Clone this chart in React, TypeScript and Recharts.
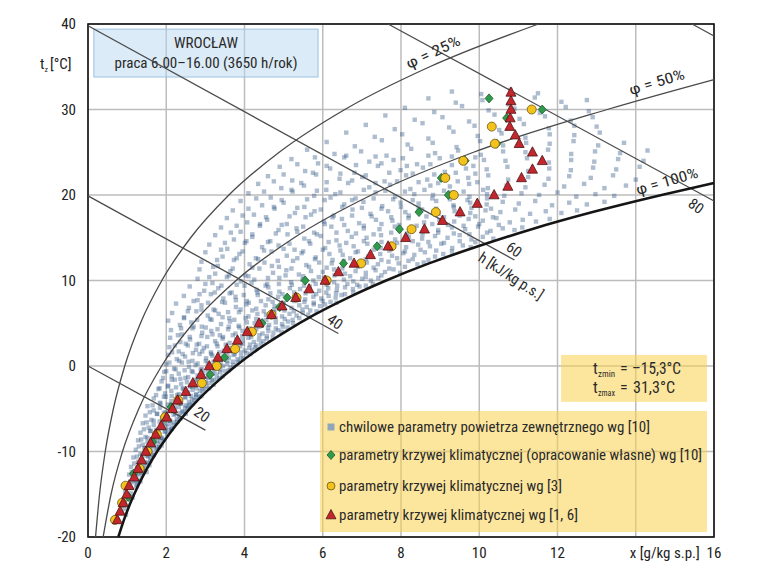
import {
  CartesianGrid,
  Label,
  Legend,
  ReferenceArea,
  ReferenceDot,
  Scatter,
  ScatterChart,
  XAxis,
  YAxis,
} from "recharts";

const font = "'Liberation Sans Narrow', 'Arial Narrow', 'Roboto Condensed', 'Liberation Sans', Arial, sans-serif";

const xTicks = [0, 2, 4, 6, 8, 10, 12, 14, 16];
const yTicks = [-20, -10, 0, 10, 20, 30, 40];

// relative humidity curves, [x g/kg, t °C]
const phi100: [number, number][] = [
  [0.775, -20], [0.919, -18], [1.086, -16], [1.281, -14], [1.507, -12], [1.767, -10],
  [2.067, -8], [2.411, -6], [2.806, -4], [3.26, -2], [3.775, 0], [4.36, 2], [5.04, 4],
  [5.79, 6], [6.65, 8], [7.62, 10], [8.715, 12], [9.97, 14], [11.34, 16], [12.9, 18],
  [14.66, 20], [16.0, 21.4],
];
const phi50: [number, number][] = [
  [0.387, -20], [0.589, -15], [0.882, -10], [1.298, -5], [1.882, 0], [2.687, 5],
  [3.786, 10], [5.268, 15], [7.243, 20], [9.853, 25], [13.27, 30], [16.0, 33.5],
];
const phi25: [number, number][] = [
  [0.193, -20], [0.295, -15], [0.441, -10], [0.649, -5], [0.939, 0], [1.34, 5],
  [1.887, 10], [2.623, 15], [3.601, 20], [4.887, 25], [6.565, 30], [8.735, 35], [11.516, 40],
];

// constant enthalpy lines, end points [x, t]
const enthalpyLines: [number, number][][] = [
  [[0, 0], [3.0, -7.5]],
  [[0, 19.9], [6.4, 3.8]],
  [[0, 39.8], [10.9, 12.4]],
  [[7.67, 40], [16, 19.3]],
  [[15.44, 40], [16, 38.6]],
];

// climatic curve wg [1, 6]
const redT = [
  -18, -17, -16, -15, -14, -13, -12, -11, -10, -9, -8, -7, -6, -5, -4, -3, -2, -1, 0, 1, 2,
  3, 4, 5, 6, 7, 8, 9, 10, 11, 12, 13, 14, 15, 16, 17, 18, 19, 20, 21, 22, 23, 24, 25, 26,
  27, 28, 29, 30, 31, 32,
];
const redX = [
  0.75, 0.82, 0.9, 0.99, 1.05, 1.18, 1.28, 1.37, 1.48, 1.6, 1.73, 1.87, 2.01, 2.16, 2.29,
  2.5, 2.68, 2.89, 3.1, 3.32, 3.55, 3.82, 4.07, 4.37, 4.69, 4.96, 5.31, 5.65, 6.06, 6.4,
  6.8, 7.22, 7.67, 8.12, 8.6, 9.06, 9.51, 9.95, 10.38, 10.73, 11.08, 11.36, 11.61, 11.36,
  11.02, 10.92, 10.78, 10.79, 10.81, 10.81, 10.81,
];

// climatic curve wg [3]
const yellowT = [-18, -16, -14, -12, -10, -8, -6, -4, -2, 0, 2, 4, 6, 8, 10, 12, 14, 16, 18, 20, 22, 24, 26, 28, 30];
const yellowX = [
  0.69, 0.87, 0.96, 1.32, 1.52, 1.76, 1.97, 2.31, 2.91, 3.29, 3.76, 4.19, 4.69, 5.33, 6.1,
  6.98, 7.76, 8.27, 8.89, 9.35, 9.13, 9.59, 10.4, 10.32, 11.34,
];

// climatic curve, own elaboration wg [10]
const greenT = [-15.3, -12.6, -8.9, -4.8, -1, 1, 5, 6.9, 8, 10, 12, 14, 16, 18, 20, 22, 24, 26, 29, 30, 31.3];
const greenX = [
  1.03, 1.16, 1.65, 2.12, 3.12, 3.49, 4.45, 4.9, 5.09, 5.55, 6.53, 7.39, 7.96, 8.46, 9.21,
  9.03, 9.64, 10.45, 10.7, 11.61, 10.25,
];

// hourly outdoor air states wg [10], [x, t]
const cloud: [number, number][] = [
  [0.86, -17.2], [0.93, -16.7], [0.97, -17.4],
  [0.9, -15.8], [0.98, -16.3], [1.03, -15.6],
  [0.95, -14.7], [1.04, -15.2], [1.1, -14.9], [1.14, -15.4],
  [1.0, -13.8], [1.1, -14.3], [1.17, -13.6], [1.23, -14.1], [1.26, -13.9],
  [1.05, -12.7], [1.15, -13.2], [1.24, -12.9], [1.31, -13.4], [1.37, -12.8],
  [1.1, -11.8], [1.22, -12.3], [1.32, -11.6], [1.4, -12.1], [1.47, -11.9], [1.5, -12.4],
  [1.16, -10.7], [1.28, -11.2], [1.38, -10.9], [1.47, -11.3], [1.54, -10.6], [1.59, -11.1],
  [1.22, -9.8], [1.34, -10.3], [1.44, -9.6], [1.53, -10.1], [1.61, -9.9], [1.68, -10.4], [1.73, -9.7],
  [1.28, -8.7], [1.4, -9.2], [1.52, -8.9], [1.62, -9.4], [1.7, -8.6], [1.78, -9.1], [1.85, -8.8], [1.88, -9.3],
  [1.34, -7.8], [1.47, -8.3], [1.59, -7.6], [1.7, -8.1], [1.8, -7.9], [1.89, -8.4], [1.96, -7.7], [2.02, -8.0],
  [1.4, -6.7], [1.55, -7.2], [1.68, -6.9], [1.8, -7.4], [1.91, -6.6], [2.0, -7.1], [2.08, -6.8], [2.14, -7.3], [2.19, -6.9],
  [1.47, -5.8], [1.62, -6.3], [1.76, -5.6], [1.89, -6.1], [2.0, -5.9], [2.1, -6.4], [2.19, -5.7], [2.27, -6.2], [2.33, -5.9], [2.37, -6.1],
  [1.52, -4.7], [1.68, -5.2], [1.84, -4.9], [1.98, -5.4], [2.11, -4.6], [2.22, -5.1], [2.32, -4.8], [2.41, -5.3], [2.48, -4.9], [2.54, -5.0], [2.57, -4.7],
  [1.68, -3.8], [1.84, -4.3], [1.99, -3.6], [2.13, -4.1], [2.26, -3.9], [2.38, -4.4], [2.49, -3.7], [2.58, -4.2], [2.66, -3.9], [2.72, -4.0], [2.76, -3.7],
  [1.8, -2.7], [1.97, -3.2], [2.13, -2.9], [2.28, -3.4], [2.42, -2.6], [2.55, -3.1], [2.67, -2.8], [2.77, -3.3], [2.86, -2.9], [2.93, -3.0], [2.98, -2.7],
  [1.88, -1.8], [2.05, -2.3], [2.22, -1.6], [2.38, -2.1], [2.53, -1.9], [2.67, -2.4], [2.8, -1.7], [2.91, -2.2], [3.01, -1.9], [3.1, -2.0], [3.17, -1.7], [3.21, -2.2],
  [1.95, -0.7], [2.14, -1.2], [2.32, -0.9], [2.49, -1.4], [2.65, -0.6], [2.8, -1.1], [2.94, -0.8], [3.07, -1.3], [3.19, -0.9], [3.29, -1.0], [3.38, -0.7], [3.44, -1.2],
  [2.0, 0.2], [2.2, -0.3], [2.4, 0.4], [2.58, -0.1], [2.75, 0.1], [2.91, -0.4], [3.06, 0.3], [3.2, -0.2], [3.33, 0.1], [3.45, 0.0], [3.56, 0.3], [3.64, -0.2], [3.71, 0.1],
  [2.05, 1.3], [2.27, 0.8], [2.48, 1.1], [2.67, 0.6], [2.85, 1.4], [3.02, 0.9], [3.18, 1.2], [3.33, 0.7], [3.47, 1.1], [3.6, 1.0], [3.72, 1.3], [3.82, 0.8], [3.91, 1.1], [3.97, 0.9],
  [2.08, 2.2], [2.32, 1.7], [2.55, 2.4], [2.76, 1.9], [2.96, 2.1], [3.14, 1.6], [3.31, 2.3], [3.47, 1.8], [3.62, 2.1], [3.76, 2.0], [3.89, 2.3], [4.01, 1.8], [4.12, 2.1], [4.2, 1.9], [4.27, 2.2],
  [2.1, 3.3], [2.36, 2.8], [2.61, 3.1], [2.84, 2.6], [3.05, 3.4], [3.25, 2.9], [3.44, 3.2], [3.62, 2.7], [3.79, 3.1], [3.95, 3.0], [4.1, 3.3], [4.24, 2.8], [4.37, 3.1], [4.48, 2.9], [4.57, 3.2],
  [2.12, 4.2], [2.4, 3.7], [2.67, 4.4], [2.92, 3.9], [3.15, 4.1], [3.37, 3.6], [3.58, 4.3], [3.77, 3.8], [3.95, 4.1], [4.13, 4.0], [4.3, 4.3], [4.46, 3.8], [4.61, 4.1], [4.74, 3.9], [4.86, 4.2], [4.95, 4.0],
  [2.05, 5.3], [2.35, 4.8], [2.64, 5.1], [2.91, 4.6], [3.16, 5.4], [3.4, 4.9], [3.63, 5.2], [3.85, 4.7], [4.06, 5.1], [4.26, 5.0], [4.45, 5.3], [4.63, 4.8], [4.8, 5.1], [4.96, 4.9], [5.11, 5.2], [5.24, 5.0],
  [2.15, 6.2], [2.46, 5.7], [2.77, 6.4], [3.06, 5.9], [3.34, 6.1], [3.61, 5.6], [3.86, 6.3], [4.1, 5.8], [4.33, 6.1], [4.55, 6.0], [4.76, 6.3], [4.96, 5.8], [5.15, 6.1], [5.33, 5.9], [5.49, 6.2], [5.63, 6.0],
  [2.25, 7.3], [2.58, 6.8], [2.9, 7.1], [3.21, 6.6], [3.5, 7.4], [3.78, 6.9], [4.05, 7.2], [4.3, 6.7], [4.54, 7.1], [4.77, 7.0], [4.99, 7.3], [5.2, 6.8], [5.4, 7.1], [5.59, 6.9], [5.77, 7.2], [5.93, 7.0], [6.06, 7.2],
  [2.45, 8.2], [2.8, 7.7], [3.14, 8.4], [3.46, 7.9], [3.77, 8.1], [4.06, 7.6], [4.34, 8.3], [4.61, 7.8], [4.86, 8.1], [5.1, 8.0], [5.33, 8.3], [5.55, 7.8], [5.76, 8.1], [5.96, 7.9], [6.15, 8.2], [6.33, 8.0], [6.48, 8.3],
  [2.6, 9.3], [2.97, 8.8], [3.33, 9.1], [3.67, 8.6], [4.0, 9.4], [4.31, 8.9], [4.61, 9.2], [4.89, 8.7], [5.16, 9.1], [5.42, 9.0], [5.67, 9.3], [5.91, 8.8], [6.14, 9.1], [6.36, 8.9], [6.57, 9.2], [6.77, 9.0], [6.94, 9.3],
  [2.8, 10.2], [3.18, 9.7], [3.55, 10.4], [3.91, 9.9], [4.25, 10.1], [4.58, 9.6], [4.89, 10.3], [5.19, 9.8], [5.48, 10.1], [5.76, 10.0], [6.03, 10.3], [6.29, 9.8], [6.54, 10.1], [6.78, 9.9], [7.01, 10.2], [7.23, 10.0], [7.42, 10.3],
  [2.85, 11.3], [3.25, 10.8], [3.64, 11.1], [4.02, 10.6], [4.38, 11.4], [4.73, 10.9], [5.07, 11.2], [5.39, 10.7], [5.7, 11.1], [6.0, 11.0], [6.29, 11.3], [6.57, 10.8], [6.84, 11.1], [7.1, 10.9], [7.35, 11.2], [7.59, 11.0], [7.81, 11.3], [7.98, 10.9],
  [2.9, 12.2], [3.32, 11.7], [3.73, 12.4], [4.13, 11.9], [4.51, 12.1], [4.88, 11.6], [5.24, 12.3], [5.58, 11.8], [5.91, 12.1], [6.23, 12.0], [6.54, 12.3], [6.84, 11.8], [7.13, 12.1], [7.41, 11.9], [7.68, 12.2], [7.94, 12.0], [8.19, 12.3], [8.42, 11.9], [8.58, 12.1],
  [3.0, 13.3], [3.44, 12.8], [3.87, 13.1], [4.29, 12.6], [4.69, 13.4], [5.08, 12.9], [5.46, 13.2], [5.82, 12.7], [6.17, 13.1], [6.51, 13.0], [6.84, 13.3], [7.16, 12.8], [7.47, 13.1], [7.77, 12.9], [8.06, 13.2], [8.34, 13.0], [8.61, 13.3], [8.87, 12.8], [9.08, 13.1],
  [3.1, 14.2], [3.56, 13.7], [4.01, 14.4], [4.45, 13.9], [4.87, 14.1], [5.28, 13.6], [5.68, 14.3], [6.06, 13.8], [6.43, 14.1], [6.79, 14.0], [7.14, 14.3], [7.48, 13.8], [7.81, 14.1], [8.13, 13.9], [8.44, 14.2], [8.74, 14.0], [9.03, 14.3], [9.31, 13.8], [9.58, 14.1], [9.78, 13.9],
  [3.25, 15.3], [3.73, 14.8], [4.2, 15.1], [4.66, 14.6], [5.1, 15.4], [5.53, 14.9], [5.95, 15.2], [6.35, 14.7], [6.74, 15.1], [7.12, 15.0], [7.49, 15.3], [7.85, 14.8], [8.2, 15.1], [8.54, 14.9], [8.87, 15.2], [9.19, 15.0], [9.5, 15.3], [9.8, 14.8], [10.09, 15.1], [10.36, 14.9],
  [3.4, 16.2], [3.9, 15.7], [4.39, 16.4], [4.87, 15.9], [5.33, 16.1], [5.78, 15.6], [6.22, 16.3], [6.64, 15.8], [7.05, 16.1], [7.45, 16.0], [7.84, 16.3], [8.22, 15.8], [8.59, 16.1], [8.95, 15.9], [9.3, 16.2], [9.64, 16.0], [9.97, 16.3], [10.29, 15.8], [10.6, 16.1], [10.9, 15.9], [11.1, 16.2],
  [3.55, 17.3], [4.07, 16.8], [4.58, 17.1], [5.08, 16.6], [5.56, 17.4], [6.03, 16.9], [6.49, 17.2], [6.93, 16.7], [7.36, 17.1], [7.78, 17.0], [8.19, 17.3], [8.59, 16.8], [8.98, 17.1], [9.36, 16.9], [9.73, 17.2], [10.09, 17.0], [10.44, 17.3], [10.78, 16.8], [11.11, 17.1], [11.45, 16.9], [11.8, 17.2],
  [3.7, 18.2], [4.24, 17.7], [4.77, 18.4], [5.29, 17.9], [5.79, 18.1], [6.28, 17.6], [6.76, 18.3], [7.22, 17.8], [7.67, 18.1], [8.11, 18.0], [8.54, 18.3], [8.96, 17.8], [9.37, 18.1], [9.77, 17.9], [10.16, 18.2], [10.54, 18.0], [10.92, 18.3], [11.3, 17.8], [11.7, 18.1], [12.1, 17.9], [12.5, 18.2],
  [3.9, 19.3], [4.45, 18.8], [5.0, 19.1], [5.53, 18.6], [6.05, 19.4], [6.55, 18.9], [7.04, 19.2], [7.52, 18.7], [7.99, 19.1], [8.45, 19.0], [8.9, 19.3], [9.34, 18.8], [9.77, 19.1], [10.19, 18.9], [10.6, 19.2], [11.01, 19.0], [11.43, 19.3], [11.86, 18.8], [12.3, 19.1], [12.75, 18.9], [13.2, 19.2],
  [4.1, 20.2], [4.67, 19.7], [5.23, 20.4], [5.78, 19.9], [6.32, 20.1], [6.84, 19.6], [7.35, 20.3], [7.85, 19.8], [8.34, 20.1], [8.82, 20.0], [9.29, 20.3], [9.75, 19.8], [10.2, 20.1], [10.64, 19.9], [11.08, 20.2], [11.53, 20.0], [12.0, 20.3], [12.48, 19.8], [12.97, 20.1], [13.45, 19.9],
  [4.35, 21.3], [4.94, 20.8], [5.52, 21.1], [6.09, 20.6], [6.65, 21.4], [7.19, 20.9], [7.72, 21.2], [8.24, 20.7], [8.75, 21.1], [9.25, 21.0], [9.74, 21.3], [10.22, 20.8], [10.7, 21.1], [11.18, 20.9], [11.67, 21.2], [12.17, 21.0], [12.68, 21.3], [13.2, 20.8], [13.75, 21.1],
  [4.6, 22.2], [5.22, 21.7], [5.83, 22.4], [6.43, 21.9], [7.01, 22.1], [7.58, 21.6], [8.13, 22.3], [8.67, 21.8], [9.2, 22.1], [9.72, 22.0], [10.23, 22.3], [10.74, 21.8], [11.25, 22.1], [11.77, 21.9], [12.3, 22.2], [12.85, 22.0], [13.42, 22.3], [14.0, 21.8],
  [4.9, 23.3], [5.55, 22.8], [6.19, 23.1], [6.81, 22.6], [7.41, 23.4], [7.99, 22.9], [8.56, 23.2], [9.12, 22.7], [9.66, 23.1], [10.19, 23.0], [10.72, 23.3], [11.25, 22.8], [11.79, 23.1], [12.34, 22.9], [12.91, 23.2], [13.5, 23.0], [14.1, 23.3],
  [5.2, 24.2], [5.88, 23.7], [6.55, 24.4], [7.19, 23.9], [7.81, 24.1], [8.41, 23.6], [8.99, 24.3], [9.56, 23.8], [10.12, 24.1], [10.67, 24.0], [11.22, 24.3], [11.78, 23.8], [12.35, 24.1], [12.94, 23.9], [13.55, 24.2], [14.2, 24.0],
  [5.6, 25.3], [6.3, 24.8], [6.98, 25.1], [7.63, 24.6], [8.26, 25.4], [8.87, 24.9], [9.46, 25.2], [10.04, 24.7], [10.61, 25.1], [11.18, 25.0], [11.76, 25.3], [12.35, 24.8], [12.96, 25.1], [13.6, 24.9], [14.3, 25.2],
  [6.1, 26.2], [6.82, 25.7], [7.51, 26.4], [8.17, 25.9], [8.81, 26.1], [9.42, 25.6], [10.02, 26.3], [10.61, 25.8], [11.2, 26.1], [11.8, 26.0], [12.41, 26.3], [13.04, 25.8], [13.7, 26.1],
  [6.6, 27.3], [7.33, 26.8], [8.03, 27.1], [8.7, 26.6], [9.34, 27.4], [9.96, 26.9], [10.57, 27.2], [11.18, 26.7], [11.8, 27.1], [12.43, 27.0], [13.08, 27.3],
  [7.1, 28.2], [7.84, 27.7], [8.55, 28.4], [9.23, 27.9], [9.88, 28.1], [10.51, 27.6], [11.14, 28.3], [11.78, 27.8], [12.43, 28.1], [13.0, 28.0],
  [7.6, 29.3], [8.35, 28.8], [9.06, 29.1], [9.74, 28.6], [10.39, 29.4], [11.03, 28.9], [11.68, 29.2], [12.34, 28.7], [12.9, 29.1],
  [8.1, 30.2], [8.85, 29.7], [9.56, 30.4], [10.24, 29.9], [10.9, 30.1], [11.55, 29.6], [12.21, 30.3], [12.8, 29.8],
  [8.7, 31.3], [9.4, 30.8], [10.08, 31.1], [10.75, 30.6], [11.42, 31.4], [12.1, 30.9], [12.75, 31.1],
  [9.3, 32.1], [10.05, 31.8], [10.8, 32.3], [11.5, 31.9],
];

// hourly states in between, where the record is densest
const cloudDense: [number, number][] = [
  [1.08, -13.5], [1.2, -13.4], [1.28, -13.6], [1.34, -13.5],
  [1.12, -12.4], [1.27, -12.6], [1.36, -12.5], [1.43, -12.3],
  [1.18, -11.4], [1.33, -11.6], [1.44, -11.5], [1.52, -11.3], [1.57, -11.6],
  [1.25, -10.6], [1.39, -10.4], [1.5, -10.5], [1.6, -10.7], [1.67, -10.4],
  [1.3, -9.4], [1.46, -9.6], [1.58, -9.5], [1.68, -9.3], [1.76, -9.6], [1.82, -9.5],
  [1.36, -8.6], [1.52, -8.4], [1.65, -8.5], [1.76, -8.7], [1.86, -8.4], [1.94, -8.6],
  [1.43, -7.4], [1.6, -7.6], [1.74, -7.5], [1.87, -7.3], [1.98, -7.6], [2.07, -7.5], [2.13, -7.4],
  [1.5, -6.6], [1.68, -6.4], [1.83, -6.5], [1.97, -6.7], [2.09, -6.4], [2.2, -6.6], [2.28, -6.5],
  [1.58, -5.4], [1.77, -5.6], [1.94, -5.5], [2.09, -5.3], [2.23, -5.6], [2.35, -5.5], [2.45, -5.4], [2.5, -5.6],
  [1.65, -4.6], [1.85, -4.4], [2.04, -4.5], [2.21, -4.7], [2.36, -4.4], [2.5, -4.6], [2.61, -4.5], [2.68, -4.4],
  [1.74, -3.4], [1.94, -3.6], [2.14, -3.5], [2.32, -3.3], [2.48, -3.6], [2.63, -3.5], [2.76, -3.4], [2.86, -3.6], [2.9, -3.5],
  [1.83, -2.6], [2.04, -2.4], [2.25, -2.5], [2.44, -2.7], [2.61, -2.4], [2.77, -2.6], [2.91, -2.5], [3.03, -2.4], [3.1, -2.6],
  [1.92, -1.4], [2.14, -1.6], [2.36, -1.5], [2.56, -1.3], [2.75, -1.6], [2.92, -1.5], [3.07, -1.4], [3.2, -1.6], [3.3, -1.5], [3.36, -1.4],
  [2.0, -0.6], [2.24, -0.4], [2.47, -0.5], [2.68, -0.7], [2.88, -0.4], [3.06, -0.6], [3.23, -0.5], [3.38, -0.4], [3.5, -0.6], [3.6, -0.5],
  [2.08, 0.4], [2.33, 0.6], [2.57, 0.5], [2.8, 0.3], [3.01, 0.6], [3.21, 0.5], [3.39, 0.4], [3.56, 0.6], [3.7, 0.5], [3.82, 0.4], [3.88, 0.6],
  [2.15, 1.6], [2.42, 1.4], [2.68, 1.5], [2.92, 1.7], [3.15, 1.4], [3.36, 1.6], [3.56, 1.5], [3.75, 1.4], [3.91, 1.6], [4.05, 1.5], [4.15, 1.4],
  [2.22, 2.4], [2.5, 2.6], [2.78, 2.5], [3.04, 2.3], [3.29, 2.6], [3.52, 2.5], [3.74, 2.4], [3.95, 2.6], [4.14, 2.5], [4.3, 2.4], [4.42, 2.6],
  [2.3, 3.6], [2.6, 3.4], [2.9, 3.5], [3.18, 3.7], [3.45, 3.4], [3.7, 3.6], [3.94, 3.5], [4.17, 3.4], [4.38, 3.6], [4.57, 3.5], [4.72, 3.4],
  [2.38, 4.4], [2.7, 4.6], [3.01, 4.5], [3.31, 4.3], [3.6, 4.6], [3.87, 4.5], [4.13, 4.4], [4.38, 4.6], [4.6, 4.5], [4.8, 4.4], [4.98, 4.6], [5.1, 4.5],
  [2.45, 5.6], [2.79, 5.4], [3.12, 5.5], [3.44, 5.7], [3.74, 5.4], [4.03, 5.6], [4.3, 5.5], [4.56, 5.4], [4.8, 5.6], [5.03, 5.5], [5.23, 5.4], [5.4, 5.6],
  [2.55, 6.4], [2.9, 6.6], [3.25, 6.5], [3.58, 6.3], [3.9, 6.6], [4.2, 6.5], [4.49, 6.4], [4.76, 6.6], [5.02, 6.5], [5.26, 6.4], [5.48, 6.6], [5.68, 6.5], [5.84, 6.4],
  [2.7, 7.6], [3.07, 7.4], [3.43, 7.5], [3.78, 7.7], [4.11, 7.4], [4.42, 7.6], [4.72, 7.5], [5.0, 7.4], [5.27, 7.6], [5.53, 7.5], [5.77, 7.4], [6.0, 7.6], [6.2, 7.5], [6.35, 7.4],
  [2.85, 8.4], [3.24, 8.6], [3.62, 8.5], [3.98, 8.3], [4.33, 8.6], [4.66, 8.5], [4.97, 8.4], [5.27, 8.6], [5.56, 8.5], [5.83, 8.4], [6.09, 8.6], [6.34, 8.5], [6.57, 8.4], [6.78, 8.6],
  [3.0, 9.6], [3.41, 9.4], [3.8, 9.5], [4.18, 9.7], [4.54, 9.4], [4.88, 9.6], [5.21, 9.5], [5.52, 9.4], [5.82, 9.6], [6.1, 9.5], [6.37, 9.4], [6.63, 9.6], [6.88, 9.5], [7.1, 9.4], [7.28, 9.6],
  [3.1, 10.4], [3.6, 10.6], [4.1, 10.5], [4.6, 10.3], [5.05, 10.6], [5.5, 10.5], [5.9, 10.4], [6.3, 10.6], [6.7, 10.5], [7.1, 10.4], [7.5, 10.6],
  [3.2, 11.6], [3.7, 11.4], [4.2, 11.5], [4.7, 11.7], [5.2, 11.4], [5.65, 11.6], [6.1, 11.5], [6.5, 11.4], [6.9, 11.6], [7.3, 11.5], [7.7, 11.4], [8.1, 11.6],
  [3.3, 12.4], [3.8, 12.6], [4.35, 12.5], [4.85, 12.3], [5.35, 12.6], [5.8, 12.5], [6.25, 12.4], [6.7, 12.6], [7.1, 12.5], [7.5, 12.4], [7.9, 12.6], [8.3, 12.5], [8.7, 12.4],
  [3.4, 13.6], [3.95, 13.4], [4.5, 13.5], [5.0, 13.7], [5.5, 13.4], [6.0, 13.6], [6.45, 13.5], [6.9, 13.4], [7.3, 13.6], [7.7, 13.5], [8.1, 13.4], [8.5, 13.6], [8.9, 13.5], [9.3, 13.4],
  [3.5, 14.4], [4.05, 14.6], [4.6, 14.5], [5.15, 14.3], [5.65, 14.6], [6.15, 14.5], [6.6, 14.4], [7.05, 14.6], [7.5, 14.5], [7.9, 14.4], [8.3, 14.6], [8.7, 14.5], [9.1, 14.4], [9.5, 14.6], [9.9, 14.5],
  [3.65, 15.6], [4.2, 15.4], [4.8, 15.5], [5.35, 15.7], [5.85, 15.4], [6.35, 15.6], [6.85, 15.5], [7.3, 15.4], [7.75, 15.6], [8.15, 15.5], [8.55, 15.4], [8.95, 15.6], [9.35, 15.5], [9.75, 15.4], [10.2, 15.6],
  [3.8, 16.4], [4.4, 16.6], [4.95, 16.5], [5.5, 16.3], [6.05, 16.6], [6.55, 16.5], [7.05, 16.4], [7.5, 16.6], [7.95, 16.5], [8.4, 16.4], [8.8, 16.6], [9.2, 16.5], [9.6, 16.4], [10.0, 16.6], [10.5, 16.5],
  [3.95, 17.6], [4.55, 17.4], [5.15, 17.5], [5.7, 17.7], [6.25, 17.4], [6.75, 17.6], [7.25, 17.5], [7.75, 17.4], [8.2, 17.6], [8.65, 17.5], [9.1, 17.4], [9.5, 17.6], [9.9, 17.5], [10.35, 17.4],
  [4.1, 18.4], [4.75, 18.6], [5.35, 18.5], [5.95, 18.3], [6.5, 18.6], [7.0, 18.5], [7.5, 18.4], [8.0, 18.6], [8.45, 18.5], [8.9, 18.4], [9.35, 18.6], [9.8, 18.5], [10.3, 18.4],
  [4.3, 19.6], [4.95, 19.4], [5.6, 19.5], [6.2, 19.7], [6.75, 19.4], [7.3, 19.6], [7.8, 19.5], [8.3, 19.4], [8.8, 19.6], [9.25, 19.5], [9.7, 19.4], [10.2, 19.6],
  [4.5, 20.4], [5.2, 20.6], [5.85, 20.5], [6.45, 20.3], [7.05, 20.6], [7.6, 20.5], [8.1, 20.4], [8.6, 20.6], [9.1, 20.5], [9.6, 20.4], [10.1, 20.6],
  [4.75, 21.6], [5.45, 21.4], [6.1, 21.5], [6.75, 21.7], [7.35, 21.4], [7.9, 21.6], [8.45, 21.5], [8.95, 21.4], [9.45, 21.6], [9.95, 21.5],
  [5.0, 22.4], [5.75, 22.6], [6.45, 22.5], [7.1, 22.3], [7.7, 22.6], [8.3, 22.5], [8.85, 22.4], [9.4, 22.6], [9.9, 22.5],
  [5.35, 23.6], [6.1, 23.4], [6.85, 23.5], [7.5, 23.7], [8.15, 23.4], [8.75, 23.6], [9.3, 23.5], [9.85, 23.4],
  [5.8, 24.4], [6.6, 24.6], [7.35, 24.5], [8.05, 24.3], [8.7, 24.6], [9.3, 24.5], [9.9, 24.4],
];

const legendItems = [
  { kind: "square", text: "chwilowe parametry powietrza zewnętrznego wg [10]", width: 311 },
  { kind: "diamond", text: "parametry krzywej klimatycznej (opracowanie własne) wg [10]", width: 363 },
  { kind: "circle", text: "parametry krzywej klimatycznej wg [3]", width: 223 },
  { kind: "triangle", text: "parametry krzywej klimatycznej wg [1, 6]", width: 239 },
];

// text placed along the curves, in chart coordinates
const curveLabels = [
  { text: "φ = 25%", x: 8.82, t: 36.7, angle: -25, width: 58 },
  { text: "φ = 50%", x: 14.54, t: 33.2, angle: -17, width: 57 },
  { text: "φ = 100%", x: 14.8, t: 21.6, angle: -16, width: 64 },
  { text: "20", x: 2.91, t: -5.7, angle: 36, width: 15 },
  { text: "40", x: 6.31, t: 5.15, angle: 36, width: 15 },
  { text: "60", x: 10.89, t: 13.6, angle: 36, width: 15 },
  { text: "80", x: 15.54, t: 18.7, angle: 36, width: 15 },
  { text: "h [kJ/kg p.s.]", x: 10.81, t: 10.5, angle: 33, width: 74 },
];

const toPts = (arr: [number, number][]) => arr.map(([x, t]) => ({ x, t }));
const zip = (xs: number[], ts: number[]) => xs.map((x, i) => ({ x, t: ts[i] }));

const cloudData = toPts([...cloud, ...cloudDense]);
const redData = zip(redX, redT);
const yellowData = zip(yellowX, yellowT);
const greenData = zip(greenX, greenT);

const NoDot = () => <g />;

// scanned look of the hourly cloud: slightly soft squares
const CloudDot = (p: any) => (
  <rect
    x={p.cx - 2.2}
    y={p.cy - 2.2}
    width={4.4}
    height={4.4}
    fill="#2b5282"
    fillOpacity={0.38}
    filter="url(#soft-dot)"
  />
);

const Triangle = (p: any) => (
  <polygon
    points={`${p.cx},${p.cy - 5.5} ${p.cx + 5},${p.cy + 3.8} ${p.cx - 5},${p.cy + 3.8}`}
    fill="#c3262c"
    stroke="#4d1515"
    strokeWidth={0.8}
  />
);

const Circle = (p: any) => (
  <circle cx={p.cx} cy={p.cy} r={4.5} fill="#f4c21c" stroke="#6b5710" strokeWidth={0.8} />
);

const Diamond = (p: any) => (
  <polygon
    points={`${p.cx},${p.cy - 4.5} ${p.cx + 4},${p.cy} ${p.cx},${p.cy + 4.5} ${p.cx - 4},${p.cy}`}
    fill="#2f9a4a"
    stroke="#1c5a2c"
    strokeWidth={0.8}
  />
);

const XTick = (p: any) => {
  const v = p.payload.value;
  if (v === 14) {
    return (
      <text x={p.x + 29} y={p.y + 21} textAnchor="middle" fontSize={15} fill="#222" fontFamily={font} textLength={70} lengthAdjust="spacingAndGlyphs">
        x [g/kg s.p.]
      </text>
    );
  }
  return (
    <text x={p.x} y={p.y + 21} textAnchor="middle" fontSize={15} fill="#222" fontFamily={font}>
      {v}
    </text>
  );
};

const YTick = (p: any) => (
  <text x={p.x} y={p.y + 5} textAnchor="end" fontSize={15} fill="#222" fontFamily={font}>
    {p.payload.value}
  </text>
);

const YTitle = (p: any) => {
  const { x, y } = p.viewBox;
  return (
    <text x={x + 12} y={y + 45} fontSize={15} fill="#222" fontFamily={font}>
      t
      <tspan fontSize={8} dy={3}>z</tspan>
      <tspan dy={-3} dx={2}>[°C]</tspan>
    </text>
  );
};

const TitleBox = (p: any) => (
  <g fontFamily={font} fill="#2a2a2a">
    <rect x={p.x} y={p.y} width={p.width} height={p.height} fill="#b7d8f0" fillOpacity={0.5} stroke="#9cc3e0" strokeWidth={1} />
    <text x={p.x + p.width / 2} y={p.y + 19} textAnchor="middle" fontSize={15} textLength={64} lengthAdjust="spacingAndGlyphs">
      WROCŁAW
    </text>
    <text x={p.x + p.width / 2} y={p.y + 39} textAnchor="middle" fontSize={15} textLength={183} lengthAdjust="spacingAndGlyphs">
      praca 6.00–16.00 (3650 h/rok)
    </text>
  </g>
);

const ExtremesBox = (p: any) => (
  <g fontFamily={font} fill="#2a2a2a">
    <rect x={p.x} y={p.y} width={p.width} height={p.height} fill="#f9d24e" fillOpacity={0.55} />
    <text x={p.x + 32} y={p.y + 19} fontSize={16}>t</text>
    <text x={p.x + 37} y={p.y + 22} fontSize={9} textLength={17} lengthAdjust="spacingAndGlyphs">zmin</text>
    <text x={p.x + 59} y={p.y + 19} fontSize={16}>=</text>
    <text x={p.x + 71} y={p.y + 19} fontSize={16} textLength={49} lengthAdjust="spacingAndGlyphs">–15,3°C</text>
    <text x={p.x + 32} y={p.y + 38} fontSize={16}>t</text>
    <text x={p.x + 37} y={p.y + 41} fontSize={9} textLength={17} lengthAdjust="spacingAndGlyphs">zmax</text>
    <text x={p.x + 59} y={p.y + 38} fontSize={16}>=</text>
    <text x={p.x + 72} y={p.y + 38} fontSize={16} textLength={42} lengthAdjust="spacingAndGlyphs">31,3°C</text>
  </g>
);

const Border = (p: any) => (
  <rect x={p.x} y={p.y} width={p.width} height={p.height} fill="none" stroke="#111" strokeWidth={1.6} />
);

const LegendMarker = ({ kind }: { kind: string }) => {
  if (kind === "square") return <rect x={-3.5} y={-3.5} width={7} height={7} fill="#8fa6ba" />;
  if (kind === "diamond") return <Diamond cx={0} cy={0} />;
  if (kind === "circle") return <circle r={4} fill="#f4c21c" stroke="#6b5710" strokeWidth={0.8} />;
  return <Triangle cx={0} cy={0} />;
};

const LegendBox = () => (
  <svg width={387} height={121} style={{ display: "block" }}>
    <rect width={387} height={121} fill="#f9d24e" fillOpacity={0.55} />
    {legendItems.map((item, i) => {
      const y = [16, 44, 75, 104][i];
      return (
        <g key={item.text}>
          <g transform={`translate(11 ${y})`}>
            <LegendMarker kind={item.kind} />
          </g>
          <text x={19} y={y + 5} fontSize={15} fill="#2a2a2a" fontFamily={font} textLength={item.width} lengthAdjust="spacingAndGlyphs">
            {item.text}
          </text>
        </g>
      );
    })}
  </svg>
);

export default function App() {
  return (
    <div style={{ position: "absolute", left: 0, top: 0, width: 769, height: 577, background: "#fff" }}>
      <svg width={0} height={0} style={{ position: "absolute" }}>
        <defs>
          <filter id="soft-dot" x="-50%" y="-50%" width="200%" height="200%">
            <feGaussianBlur stdDeviation={0.7} />
          </filter>
        </defs>
      </svg>
      <ScatterChart width={769} height={577} margin={{ top: 24, right: 55, bottom: 10, left: 28 }}>
        <CartesianGrid stroke="#bcbcbc" strokeWidth={1.5} />
        <XAxis
          type="number"
          dataKey="x"
          domain={[0, 16]}
          ticks={xTicks}
          axisLine={false}
          tickLine={false}
          tickSize={0}
          tickMargin={0}
          height={30}
          interval={0}
          tick={(p: any) => <XTick {...p} />}
        />
        <YAxis
          type="number"
          dataKey="t"
          domain={[-20, 40]}
          ticks={yTicks}
          axisLine={false}
          tickLine={false}
          tickSize={0}
          tickMargin={12}
          width={60}
          interval={0}
          tick={(p: any) => <YTick {...p} />}
        >
          <Label content={(p: any) => <YTitle {...p} />} />
        </YAxis>

        <ReferenceArea x1={0.15} x2={5.88} y1={33.8} y2={39.4} shape={(p: any) => <TitleBox {...p} />} />
        <ReferenceArea x1={12.09} x2={15.82} y1={-4.2} y2={1.3} shape={(p: any) => <ExtremesBox {...p} />} />

        <Scatter data={cloudData} shape={CloudDot} isAnimationActive={false} />

        {enthalpyLines.map((seg, i) => (
          <Scatter
            key={`h-${i}`}
            data={toPts(seg)}
            line={{ stroke: "#4a4a4a", strokeWidth: 1.3 }}
            lineJointType="linear"
            shape={NoDot}
            isAnimationActive={false}
          />
        ))}
        <Scatter data={toPts(phi25)} line={{ stroke: "#4a4a4a", strokeWidth: 1.3 }} lineJointType="monotoneX" shape={NoDot} isAnimationActive={false} />
        <Scatter data={toPts(phi50)} line={{ stroke: "#4a4a4a", strokeWidth: 1.3 }} lineJointType="monotoneX" shape={NoDot} isAnimationActive={false} />
        <Scatter data={toPts(phi100)} line={{ stroke: "#151515", strokeWidth: 2.6 }} lineJointType="monotoneX" shape={NoDot} isAnimationActive={false} />

        <Scatter data={greenData} shape={Diamond} isAnimationActive={false} />
        <Scatter data={yellowData} shape={Circle} isAnimationActive={false} />
        <Scatter data={redData} shape={Triangle} isAnimationActive={false} />

        {curveLabels.map((l) => (
          <ReferenceDot
            key={l.text}
            x={l.x}
            y={l.t}
            r={0}
            shape={(p: any) => (
              <text
                x={p.cx}
                y={p.cy + 5}
                transform={`rotate(${l.angle} ${p.cx} ${p.cy})`}
                textAnchor="middle"
                fontSize={15}
                fill="#2a2a2a"
                fontFamily={font}
                textLength={l.width}
                lengthAdjust="spacingAndGlyphs"
              >
                {l.text}
              </text>
            )}
          />
        ))}

        <ReferenceArea x1={0} x2={16} y1={-20} y2={40} shape={(p: any) => <Border {...p} />} />

        <Legend
          layout="horizontal"
          verticalAlign="middle"
          align="center"
          width={387}
          height={121}
          wrapperStyle={{ left: 320, top: 411, width: 387, height: 121 }}
          content={() => <LegendBox />}
        />
      </ScatterChart>
    </div>
  );
}
